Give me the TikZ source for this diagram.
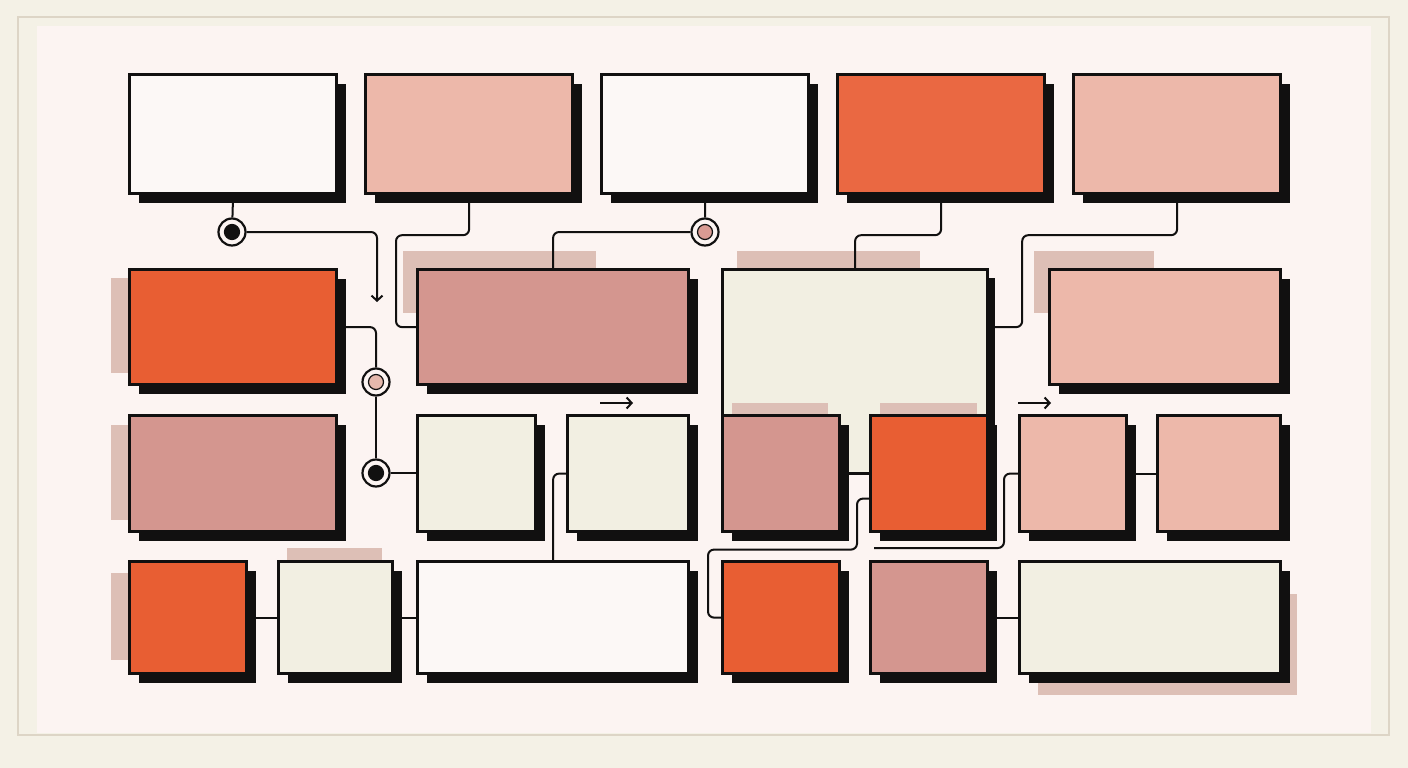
\documentclass[tikz,border=0pt]{standalone}
\usetikzlibrary{shadows,arrows.meta,calc}
\pgfdeclarelayer{bg}
\pgfsetlayers{bg,main}
\definecolor{outerbg}{HTML}{F4F1E6}
\definecolor{framecol}{HTML}{DDD5C6}
\definecolor{panel}{HTML}{FCF4F2}
\definecolor{whitebox}{HTML}{FCF8F6}
\definecolor{lpink}{HTML}{EDB8AA}
\definecolor{orangea}{HTML}{EA6842}
\definecolor{orangeb}{HTML}{E85E33}
\definecolor{dpink}{HTML}{D4968F}
\definecolor{cream}{HTML}{F2EFE2}
\definecolor{ghost}{HTML}{DDBFB6}
\definecolor{dotpink}{HTML}{D99B93}
\definecolor{dotlight}{HTML}{E5B8AC}
\definecolor{ink}{HTML}{111010}
\begin{document}
\begin{tikzpicture}[x=1pt,y=-1pt,
  plainbox/.style={draw=ink, line width=3.2pt, inner sep=0pt, anchor=north west},
  box/.style={plainbox,
    drop shadow={shadow xshift=9pt, shadow yshift=-9pt, fill=ink, opacity=1}},
  conn/.style={draw=ink, line width=2pt, rounded corners=6pt},
  tipped/.style={conn, -{Straight Barb[length=5pt,width=11pt,line width=2pt]}},
  ring/.style={circle, draw=ink, line width=2.2pt, fill=panel, minimum size=27pt, inner sep=0pt},
  dotm/.style={circle, draw=ink, line width=1.2pt, minimum size=15pt, inner sep=0pt},
  ghostr/.style={fill=ghost}]
\useasboundingbox (0,0) rectangle (1408,768);
% background
\begin{pgfonlayer}{bg}
\fill[outerbg] (0,0) rectangle (1408,768);
\draw[framecol, line width=2pt] (18,17) rectangle (1389,735);
\fill[panel] (37,26) rectangle (1371,733);
% ghosts behind
\fill[ghostr] (111,278) rectangle (128,373);
\fill[ghostr] (403,251) rectangle (596,313);
\fill[ghostr] (737,251) rectangle (920,268);
\fill[ghostr] (1034,251) rectangle (1154,313);
\fill[ghostr] (111,425) rectangle (128,520);
\fill[ghostr] (111,573) rectangle (128,660);
\fill[ghostr] (287,548) rectangle (382,560);
\fill[ghostr] (1038,594) rectangle (1297,695);
\end{pgfonlayer}

% row 1
\node[box, fill=whitebox, minimum width=207pt, minimum height=119pt] (B1) at (128,73) {};
\node[box, fill=lpink, minimum width=207pt, minimum height=119pt] (B2) at (364,73) {};
\node[box, fill=whitebox, minimum width=207pt, minimum height=119pt] (B3) at (600,73) {};
\node[box, fill=orangea, minimum width=207pt, minimum height=119pt] (B4) at (836,73) {};
\node[box, fill=lpink, minimum width=207pt, minimum height=119pt] (B5) at (1072,73) {};

% row 2
\node[box, fill=orangeb, minimum width=207pt, minimum height=115pt] (C1) at (128,268) {};
\node[box, fill=dpink, minimum width=271pt, minimum height=115pt] (C2) at (416,268) {};
\fill[ink] (978,278) rectangle (995,472);
\node[plainbox, fill=cream, minimum width=265pt, minimum height=204pt] (C3) at (721,268) {};
\node[box, fill=lpink, minimum width=231pt, minimum height=115pt] (C4) at (1048,268) {};

% ghosts over the large box
\fill[ghostr] (732,403) rectangle (828,414);
\fill[ghostr] (880,403) rectangle (977,414);

% row 3
\node[box, fill=dpink, minimum width=207pt, minimum height=116pt] (D1) at (128,414) {};
\node[box, fill=cream, minimum width=118pt, minimum height=116pt] (D2a) at (416,414) {};
\node[box, fill=cream, minimum width=121pt, minimum height=116pt] (D2b) at (566,414) {};
\node[box, fill=dpink, minimum width=117pt, minimum height=116pt] (D3) at (721,414) {};
\node[box, fill=orangeb, minimum width=117pt, minimum height=116pt] (D4) at (869,414) {};
\node[box, fill=lpink, minimum width=107pt, minimum height=116pt] (D5) at (1018,414) {};
\node[box, fill=lpink, minimum width=123pt, minimum height=116pt] (D6) at (1156,414) {};

% row 4
\node[box, fill=orangeb, minimum width=117pt, minimum height=112pt] (E1) at (128,560) {};
\node[box, fill=cream, minimum width=114pt, minimum height=112pt] (E2) at (277,560) {};
\node[box, fill=whitebox, minimum width=271pt, minimum height=112pt] (E3) at (416,560) {};
\node[box, fill=orangeb, minimum width=117pt, minimum height=112pt] (E4) at (721,560) {};
\node[box, fill=dpink, minimum width=117pt, minimum height=112pt] (E5) at (869,560) {};
\node[box, fill=cream, minimum width=261pt, minimum height=112pt] (E6) at (1018,560) {};

% markers
\node[ring] (m1) at (232,232) {};
\node[dotm, fill=ink] (m1d) at (m1) {};
\node[ring] (m2) at (705,232) {};
\node[dotm, fill=dotpink] (m2d) at (m2) {};
\node[ring] (m3) at (376,382) {};
\node[dotm, fill=dotlight] (m3d) at (m3) {};
\node[ring] (m4) at (376,473) {};
\node[dotm, fill=ink] (m4d) at (m4) {};

% free ends
\coordinate (a1) at (377,302);
\coordinate (r1s) at (600,403);
\coordinate (r1e) at (633,403);
\coordinate (r2s) at (1018,403);
\coordinate (r2e) at (1051,403);
\coordinate (f1) at (874,548);

% connectors
\begin{pgfonlayer}{bg}
\draw[conn] (B1.south) -- (m1);
\draw[tipped] (m1) -| (a1);
\draw[conn] (B2.south) -- ++(0,40) -| ($(C2.west)+(-20,0)$) -- (C2.west);
\draw[conn] (B3.south) -- (m2);
\draw[conn] (m2) -| (C2.north);
\draw[conn] (B4.south) -- ++(0,40) -| (C3.north);
\draw[conn] (B5.south) -- ++(0,40) -| ($(C3.east |- C4.west)+(33,0)$) -- (C3.east |- C4.west);
\draw[conn] (C1.east) -| (m3);
\draw[conn] (m3) -- (m4);
\draw[conn] (m4) -- (m4 -| D2a.west);
\draw[conn] (D2b.west) -| (E3.north);
\draw[conn] (D3.east) -- (D4.west);
\draw[conn] ($(D4.west)+(0,25)$) -- ++(-12,0) -- ++(0,51) -| ($(E4.west)+(-13,0)$) -- (E4.west);
\draw[conn] (f1) -| ($(D5.west)+(-14,0)$) -- (D5.west);
\draw[conn] (D5.east) -- (D6.west);
\draw[conn] (E1.east) -- (E2.west);
\draw[conn] (E2.east) -- (E3.west);
\draw[conn] (E5.east) -- (E6.west);
\end{pgfonlayer}
\draw[tipped] (r1s) -- (r1e);
\draw[tipped] (r2s) -- (r2e);
\end{tikzpicture}
\end{document}
